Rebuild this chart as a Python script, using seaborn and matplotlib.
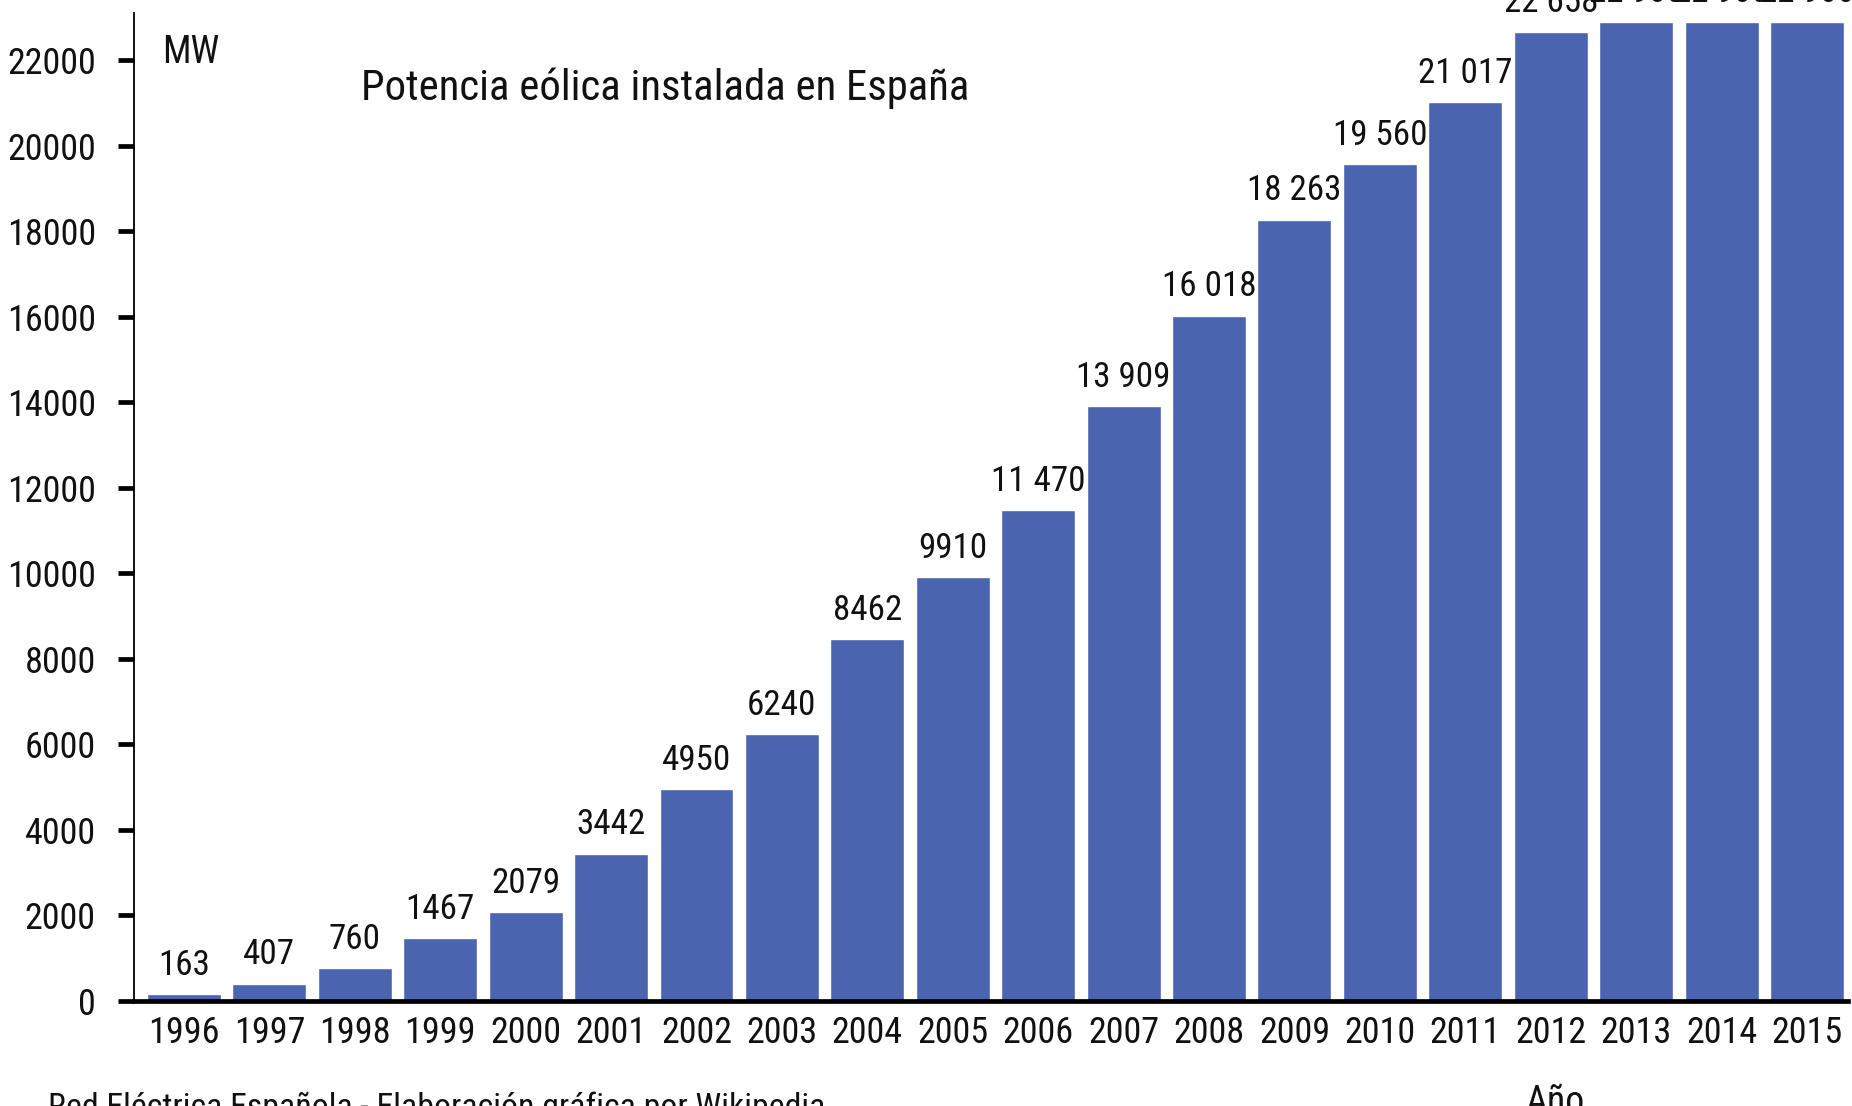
import matplotlib
matplotlib.use("Agg")
import matplotlib.pyplot as plt
from matplotlib import font_manager
from matplotlib.font_manager import FontProperties
from matplotlib.textpath import TextPath
import seaborn as sns
import pandas as pd

# Installed wind power in Spain (MW), end of each year
years = ["1996", "1997", "1998", "1999", "2000", "2001", "2002", "2003", "2004", "2005",
         "2006", "2007", "2008", "2009", "2010", "2011", "2012", "2013", "2014", "2015"]
power_mw = [163, 407, 760, 1467, 2079, 3442, 4950, 6240, 8462, 9910,
            11470, 13909, 16018, 18263, 19560, 21017, 22658, 22900, 22900, 22900]
y_ticks = list(range(0, 22001, 2000))

title_text = "Potencia eólica instalada en España"
unit_text = "MW"
xlabel_text = "Año"
source_text = "Red Eléctrica Española - Elaboración gráfica por Wikipedia"

bar_color = "#4A64AF"
text_color = "#111111"

sns.set_theme(style="white")


def pick_font_file():
    """Prefer a narrow sans face; fall back to Liberation Sans."""
    fl = font_manager.fontManager.ttflist

    def regular(f):
        return f.style == "normal" and str(f.weight) in ("400", "normal", "regular", "book")

    for name in ("Liberation Sans Narrow", "Arial Narrow", "Roboto Condensed",
                 "Noto Sans Condensed", "Open Sans Condensed", "Noto Sans SemiCondensed"):
        for f in fl:
            if f.name == name and regular(f):
                return f.fname
    for f in fl:
        if (regular(f) and f.stretch in ("condensed", "semi-condensed")
                and "Mono" not in f.name and "Serif" not in f.name):
            return f.fname
    for f in fl:
        if f.name == "Liberation Sans" and regular(f):
            return f.fname
    return font_manager.findfont("DejaVu Sans")


font_file = pick_font_file()
plt.rcParams["font.family"] = ["DejaVu Sans"]


def fitted_size(sample, width_px, ink_ref, height_px, w_weight=0.75):
    """Font size (pt, at 100 dpi) balancing a target width and glyph height."""
    base = FontProperties(fname=font_file)
    w = TextPath((0, 0), sample, size=100, prop=base).get_extents().width
    h = TextPath((0, 0), ink_ref, size=100, prop=base).get_extents().height
    f_w = width_px * 100 / w * 0.72
    f_h = height_px * 100 / h * 0.72
    return f_w ** w_weight * f_h ** (1 - w_weight)


def fp(size):
    return FontProperties(fname=font_file, size=size)


tick_size = fitted_size("22000", 82, "0", 30)
value_size = fitted_size("19 560", 85, "0", 30)
title_size = fitted_size(title_text, 603, "P", 37, w_weight=1.0)
unit_size = fitted_size(unit_text, 51, "M", 31)
label_size = fitted_size(xlabel_text, 54, "A", 31)
source_size = fitted_size(source_text, 771, "R", 30, w_weight=1.0)

W, H = 1852, 1106
fig = plt.figure(figsize=(W / 100, H / 100), dpi=100)
ax = fig.add_axes([134 / W, 1 - 1001 / H, 1714 / W, 988 / H])

df = pd.DataFrame({"year": years, "mw": power_mw})
sns.barplot(data=df, x="year", y="mw", color=bar_color, saturation=1,
            width=0.866, ax=ax)

ax.set_xlim(-0.585, 19.48)
ax.set_ylim(0, 23100)
ax.set_yticks(y_ticks)
ax.set_yticklabels([str(t) for t in y_ticks])
ax.set_xlabel("")
ax.set_ylabel("")

for side in ("top", "right"):
    ax.spines[side].set_visible(False)
ax.spines["left"].set_linewidth(1.3)
ax.spines["left"].set_color("black")
ax.spines["bottom"].set_linewidth(3.4)
ax.spines["bottom"].set_color("black")

ax.tick_params(axis="y", length=11.5, width=3.4, color="black", pad=16,
               labelcolor=text_color, left=True, direction="out")
ax.tick_params(axis="x", length=0, pad=10, labelcolor=text_color)
for lbl in ax.get_yticklabels() + ax.get_xticklabels():
    lbl.set_fontproperties(fp(tick_size))


def fmt(v):
    return f"{v:,}".replace(",", " ") if v >= 10000 else str(v)


for i, v in enumerate(power_mw):
    ax.annotate(fmt(v), (i, v), xytext=(0, 14), textcoords="offset points",
                ha="center", va="baseline", fontproperties=fp(value_size),
                color=text_color)

fig.text(162 / W, 1 - 63 / H, unit_text, fontproperties=fp(unit_size),
         color=text_color, ha="left", va="baseline")
fig.text(361 / W, 1 - 100 / H, title_text, fontproperties=fp(title_size),
         color=text_color, ha="left", va="baseline")
fig.text(1555 / W, 1 - 1113 / H, xlabel_text, fontproperties=fp(label_size),
         color=text_color, ha="center", va="baseline")
fig.text(48 / W, 1 - 1117 / H, source_text, fontproperties=fp(source_size),
         color=text_color, ha="left", va="baseline")

fig.savefig("out.png", dpi=100)
